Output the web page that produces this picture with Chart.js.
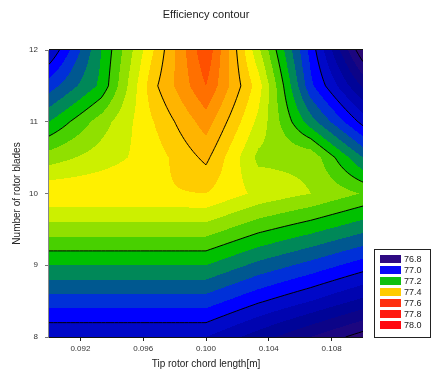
<!DOCTYPE html>
<html>
<head>
<meta charset="utf-8">
<script src="https://cdn.jsdelivr.net/npm/chart.js@4.4.0/dist/chart.umd.min.js"></script>
<style>
  html, body { margin: 0; padding: 0; background: #fff; }
  #wrap { width: 432px; height: 373px; }
</style>
</head>
<body>
<div id="wrap"><canvas id="chart" width="432" height="373"></canvas></div>
<script>
// grid of the map
const chordLengths = [0.090, 0.09333, 0.09667, 0.100, 0.10333, 0.10667, 0.110];
const bladeCounts = [8, 8.5, 9, 9.5, 10, 10.5, 11, 11.5, 12];
// efficiency, one row per blade count (bottom to top)
const efficiency = [
    [76.96, 76.96, 76.96, 76.96, 76.90, 76.84, 76.78],
    [77.06, 77.06, 77.06, 77.06, 77.006, 76.96, 76.909],
    [77.16, 77.16, 77.16, 77.16, 77.108, 77.066, 77.02],
    [77.26, 77.26, 77.26, 77.26, 77.21, 77.173, 77.131],
    [77.355, 77.355, 77.355, 77.36, 77.31, 77.28, 77.237],
    [77.26, 77.30, 77.34, 77.41, 77.27, 77.27, 77.12],
    [77.16, 77.26, 77.36, 77.46, 77.31, 77.138, 76.985],
    [77.06, 77.17, 77.39, 77.52, 77.34, 77.05, 76.873],
    [76.96, 77.16, 77.36, 77.555, 77.29, 77.025, 76.765]
];
const xTicks = [0.092, 0.096, 0.100, 0.104, 0.108];
const yTicks = [8, 9, 10, 11, 12];
// filled bands and the black contour lines
const bandLevels = [76.76, 76.80, 76.84, 76.88, 76.92, 76.96, 77.00, 77.04, 77.08, 77.12, 77.16,
                    77.20, 77.24, 77.28, 77.32, 77.36, 77.40, 77.44, 77.48, 77.52, 77.56];
const lineLevels = [76.8, 77.0, 77.2, 77.4];
const legendLabels = ['76.8', '77.0', '77.2', '77.4', '77.6', '77.8', '78.0'];

const bandColors = ['#32086c', '#2a0874', '#1c0680', '#0c0488', '#000498', '#0004b0', '#0008c8',
                    '#0000ff', '#0030d8', '#005890', '#008858', '#00c000',
                    '#48d000', '#90e000', '#ccf000', '#fff000',
                    '#ffcc00', '#ffb400', '#ff9400', '#ff7000', '#ff5000', '#ff3000'];
const legendColors = ['#2e0a82', '#0a0af8', '#10c010', '#ffcc00', '#ff3010', '#ff1a10', '#ff0810'];

function hexRgb(h) {
    return [parseInt(h.slice(1, 3), 16), parseInt(h.slice(3, 5), 16), parseInt(h.slice(5, 7), 16)];
}
const bandRgb = bandColors.map(hexRgb);

function findCell(arr, v) {
    let i = 0;
    while (i < arr.length - 2 && v > arr[i + 1]) i++;
    return i;
}

// bilinear value inside the grid
function effAt(xv, yv) {
    const i = findCell(chordLengths, xv), j = findCell(bladeCounts, yv);
    let u = (xv - chordLengths[i]) / (chordLengths[i + 1] - chordLengths[i]);
    let v = (yv - bladeCounts[j]) / (bladeCounts[j + 1] - bladeCounts[j]);
    u = Math.min(1, Math.max(0, u));
    v = Math.min(1, Math.max(0, v));
    const z00 = efficiency[j][i], z10 = efficiency[j][i + 1];
    const z01 = efficiency[j + 1][i], z11 = efficiency[j + 1][i + 1];
    return z00 * (1 - u) * (1 - v) + z10 * u * (1 - v) + z01 * (1 - u) * v + z11 * u * v;
}

const contourPlugin = {
    id: 'contour',
    beforeDatasetsDraw(chart) {
        const ctx = chart.ctx;
        const a = chart.chartArea;
        const xs = chart.scales.x, ys = chart.scales.y;
        const left = Math.round(a.left), top = Math.round(a.top);
        const w = Math.round(a.right) - left, h = Math.round(a.bottom) - top;

        // filled bands, pixel by pixel
        const img = ctx.createImageData(w, h);
        for (let py = 0; py < h; py++) {
            const yv = ys.getValueForPixel(top + py + 0.5);
            for (let px = 0; px < w; px++) {
                const xv = xs.getValueForPixel(left + px + 0.5);
                const z = effAt(xv, yv);
                let k = 0;
                while (k < bandLevels.length && z >= bandLevels[k]) k++;
                const c = bandRgb[k];
                const o = (py * w + px) * 4;
                img.data[o] = c[0];
                img.data[o + 1] = c[1];
                img.data[o + 2] = c[2];
                img.data[o + 3] = 255;
            }
        }
        ctx.putImageData(img, left, top);

        // contour lines (marching squares on a refined grid)
        const N = 12;
        const gx = [], gy = [];
        for (let i = 0; i < chordLengths.length - 1; i++)
            for (let s = 0; s < N; s++) gx.push(chordLengths[i] + (chordLengths[i + 1] - chordLengths[i]) * s / N);
        gx.push(chordLengths[chordLengths.length - 1]);
        for (let j = 0; j < bladeCounts.length - 1; j++)
            for (let s = 0; s < N; s++) gy.push(bladeCounts[j] + (bladeCounts[j + 1] - bladeCounts[j]) * s / N);
        gy.push(bladeCounts[bladeCounts.length - 1]);
        const Z = gy.map(yv => gx.map(xv => effAt(xv, yv)));

        ctx.save();
        ctx.beginPath();
        ctx.rect(a.left, a.top, a.right - a.left, a.bottom - a.top);
        ctx.clip();
        ctx.strokeStyle = '#000';
        ctx.lineWidth = 1;
        lineLevels.forEach(L => {
            ctx.beginPath();
            for (let j = 0; j < gy.length - 1; j++) {
                for (let i = 0; i < gx.length - 1; i++) {
                    const c = [[gx[i], gy[j], Z[j][i]], [gx[i + 1], gy[j], Z[j][i + 1]],
                               [gx[i + 1], gy[j + 1], Z[j + 1][i + 1]], [gx[i], gy[j + 1], Z[j + 1][i]]];
                    const pts = [];
                    for (let e = 0; e < 4; e++) {
                        const p = c[e], q = c[(e + 1) % 4];
                        if ((p[2] < L) !== (q[2] < L)) {
                            const t = (L - p[2]) / (q[2] - p[2]);
                            pts.push([p[0] + t * (q[0] - p[0]), p[1] + t * (q[1] - p[1])]);
                        }
                    }
                    for (let k = 0; k + 1 < pts.length; k += 2) {
                        ctx.moveTo(xs.getPixelForValue(pts[k][0]), ys.getPixelForValue(pts[k][1]));
                        ctx.lineTo(xs.getPixelForValue(pts[k + 1][0]), ys.getPixelForValue(pts[k + 1][1]));
                    }
                }
            }
            ctx.stroke();
        });
        ctx.restore();
    },
    afterDraw(chart) {
        const ctx = chart.ctx;
        const a = chart.chartArea;
        ctx.save();
        // frame
        ctx.lineWidth = 1;
        ctx.strokeStyle = '#111';
        ctx.beginPath();
        ctx.moveTo(a.left, a.top - 0.5);
        ctx.lineTo(a.right, a.top - 0.5);
        ctx.moveTo(a.left, a.bottom + 0.5);
        ctx.lineTo(a.right, a.bottom + 0.5);
        ctx.stroke();
        ctx.strokeStyle = '#888';
        ctx.beginPath();
        ctx.moveTo(a.left - 0.5, a.top);
        ctx.lineTo(a.left - 0.5, a.bottom + 1);
        ctx.stroke();

        // legend box
        const bx = 374.5, by = 249.5, bw = 56, bh = 88;
        ctx.strokeStyle = '#222';
        ctx.strokeRect(bx, by, bw, bh);
        ctx.font = '9px "Liberation Sans", Arial, sans-serif';
        ctx.textBaseline = 'middle';
        ctx.textAlign = 'left';
        legendLabels.forEach((lab, i) => {
            const cy = 259 + i * 11;
            ctx.fillStyle = legendColors[i];
            ctx.fillRect(380, cy - 4, 21, 8);
            ctx.fillStyle = '#222';
            ctx.fillText(lab, 404, cy + 0.5);
        });
        ctx.restore();
    }
};

// grid nodes as the (invisible) dataset
const gridPoints = [];
bladeCounts.forEach(b => chordLengths.forEach(c => gridPoints.push({ x: c, y: b })));

Chart.defaults.color = '#222';
Chart.defaults.font.family = '"Liberation Sans", Arial, sans-serif';

new Chart(document.getElementById('chart'), {
    type: 'scatter',
    data: {
        datasets: [{
            label: 'grid',
            data: gridPoints,
            pointRadius: 0,
            pointHoverRadius: 0
        }]
    },
    options: {
        responsive: false,
        animation: false,
        devicePixelRatio: 1,
        layout: { padding: { left: 0, top: 0, right: 69, bottom: 0 } },
        plugins: {
            legend: { display: false },
            tooltip: { enabled: false },
            title: {
                display: true,
                text: 'Efficiency contour',
                fullSize: false,
                color: '#222',
                font: { size: 11, weight: 'normal' },
                padding: { top: 8, bottom: 28.8 }
            }
        },
        scales: {
            x: {
                type: 'linear',
                min: 0.090,
                max: 0.110,
                afterFit: s => { s.height = 36; },
                afterBuildTicks: s => { s.ticks = xTicks.map(v => ({ value: v })); },
                grid: { drawOnChartArea: false, drawTicks: true, tickLength: 4, color: '#222' },
                border: { display: false },
                ticks: {
                    padding: 3,
                    maxRotation: 0,
                    font: { size: 8 },
                    color: '#333',
                    callback: v => v.toFixed(3)
                },
                title: {
                    display: true,
                    text: 'Tip rotor chord length[m]',
                    font: { size: 10 },
                    color: '#222',
                    padding: { top: 0, bottom: 3 }
                }
            },
            y: {
                type: 'linear',
                min: 8,
                max: 12,
                afterFit: s => { s.width = 49; },
                afterBuildTicks: s => { s.ticks = yTicks.map(v => ({ value: v })); },
                grid: { drawOnChartArea: false, drawTicks: true, tickLength: 4, color: '#777' },
                border: { display: false },
                ticks: {
                    padding: 7,
                    font: { size: 8 },
                    color: '#333',
                    callback: v => String(v)
                },
                title: {
                    display: true,
                    text: 'Number of rotor blades',
                    font: { size: 10 },
                    color: '#222',
                    padding: { top: 11, bottom: 0 }
                }
            }
        }
    },
    plugins: [contourPlugin]
});
</script>
</body>
</html>
